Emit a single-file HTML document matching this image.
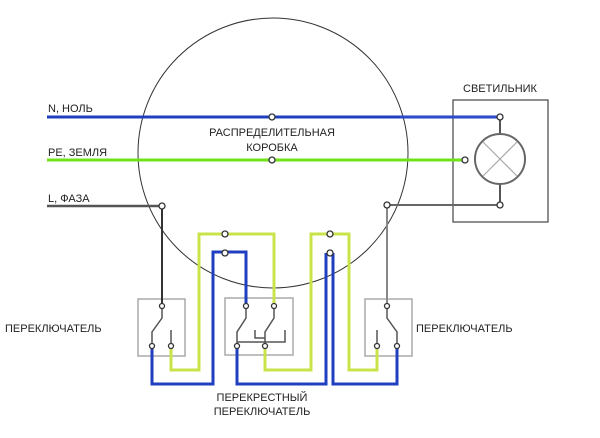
<!DOCTYPE html>
<html><head><meta charset="utf-8"><style>
body{margin:0;background:#fff;width:600px;height:433px;overflow:hidden}
svg text{font-family:"Liberation Sans",sans-serif;font-size:11px;fill:#222}
</style></head><body>
<svg width="600" height="433" viewBox="0 0 600 433" xmlns="http://www.w3.org/2000/svg">
<circle cx="273" cy="153" r="135" fill="none" stroke="#333" stroke-width="1"/>
<rect x="453" y="100" width="95" height="122" fill="none" stroke="#444" stroke-width="1.2"/>
<rect x="138" y="299" width="47" height="57" fill="none" stroke="#aaa" stroke-width="1.5"/>
<rect x="225" y="298" width="68" height="57" fill="none" stroke="#aaa" stroke-width="1.5"/>
<rect x="365" y="299" width="47" height="57" fill="none" stroke="#aaa" stroke-width="1.5"/>
<!-- main lines -->
<line x1="47" y1="117" x2="500" y2="117" stroke="#1f3fc0" stroke-width="3"/>
<line x1="400" y1="117" x2="500" y2="117" stroke="#3050d0" stroke-width="1.5"/>
<line x1="47" y1="160" x2="462" y2="160" stroke="#6ee31a" stroke-width="3"/>
<line x1="47" y1="206" x2="162" y2="206" stroke="#555" stroke-width="2.5"/>
<line x1="385" y1="205" x2="500" y2="205" stroke="#666" stroke-width="2"/>
<!-- lamp -->
<line x1="500" y1="117" x2="500" y2="205" stroke="#555" stroke-width="2"/>
<circle cx="500" cy="159" r="25" fill="#fff" stroke="#666" stroke-width="2"/>
<line x1="483" y1="142" x2="517" y2="176" stroke="#aaa" stroke-width="1.2"/>
<line x1="517" y1="142" x2="483" y2="176" stroke="#aaa" stroke-width="1.2"/>
<!-- phase and return -->
<polyline points="162,206 162,306" fill="none" stroke="#333" stroke-width="2"/>
<polyline points="387,205 387,306" fill="none" stroke="#888" stroke-width="2"/>
<!-- yellow wires -->
<g fill="none" stroke="#c8e44a" stroke-width="3">
<polyline points="171,346 171,370 199,370 199,234 274,234 274,306"/>
<polyline points="265,346 265,370 311,370 311,234 349,234 349,370 377,370 377,346"/>
</g>
<!-- blue wires -->
<g fill="none" stroke="#1f3fc0" stroke-width="3">
<polyline points="152,346 152,384 213,384 213,252 246,252 246,306"/>
<polyline points="237,346 237,384 326,384 326,253"/>
<polyline points="333,253 333,384 397,384 397,346"/>
</g>
<!-- switch blades -->
<g fill="none" stroke="#555" stroke-width="1.5">
<polyline points="162,306 162,318 152,332 152,346"/>
<line x1="171" y1="330" x2="171" y2="346"/>
<polyline points="246,306 246,318 237,332 237,346"/>
<polyline points="274,306 274,318 265,332 265,346"/>
<polyline points="237,342 285,342 285,330"/>
<polyline points="255,330 255,338 265,338"/>
<polyline points="387,306 387,318 397,332 397,346"/>
<line x1="377" y1="330" x2="377" y2="346"/>
</g>
<!-- terminals -->
<g fill="#fff" stroke="#333" stroke-width="1.3">
<circle cx="272" cy="117" r="3"/><circle cx="272" cy="160" r="3"/>
<circle cx="500" cy="117" r="3"/><circle cx="500" cy="205" r="3"/><circle cx="465" cy="160" r="3"/>
<circle cx="162" cy="206" r="3"/><circle cx="387" cy="205" r="3"/>
<circle cx="225" cy="234" r="3"/><circle cx="225" cy="253" r="3"/>
<circle cx="330" cy="234" r="3"/><circle cx="330" cy="253" r="3"/>
<circle cx="162" cy="306" r="2.5"/><circle cx="152" cy="346" r="2.5"/><circle cx="171" cy="346" r="2.5"/>
<circle cx="246" cy="306" r="2.5"/><circle cx="274" cy="306" r="2.5"/><circle cx="237" cy="346" r="2.5"/><circle cx="265" cy="346" r="2.5"/>
<circle cx="387" cy="306" r="2.5"/><circle cx="377" cy="346" r="2.5"/><circle cx="397" cy="346" r="2.5"/>
</g>
<!-- labels -->
<text x="48" y="112">N, НОЛЬ</text>
<text x="48" y="156">PE, ЗЕМЛЯ</text>
<text x="48" y="202">L, ФАЗА</text>
<text x="272" y="136" text-anchor="middle">РАСПРЕДЕЛИТЕЛЬНАЯ</text>
<text x="272" y="151" text-anchor="middle">КОРОБКА</text>
<text x="500" y="92" text-anchor="middle">СВЕТИЛЬНИК</text>
<text x="5" y="332">ПЕРЕКЛЮЧАТЕЛЬ</text>
<text x="416" y="332">ПЕРЕКЛЮЧАТЕЛЬ</text>
<text x="262" y="401" text-anchor="middle">ПЕРЕКРЕСТНЫЙ</text>
<text x="262" y="415" text-anchor="middle">ПЕРЕКЛЮЧАТЕЛЬ</text>
</svg>
</body></html>
